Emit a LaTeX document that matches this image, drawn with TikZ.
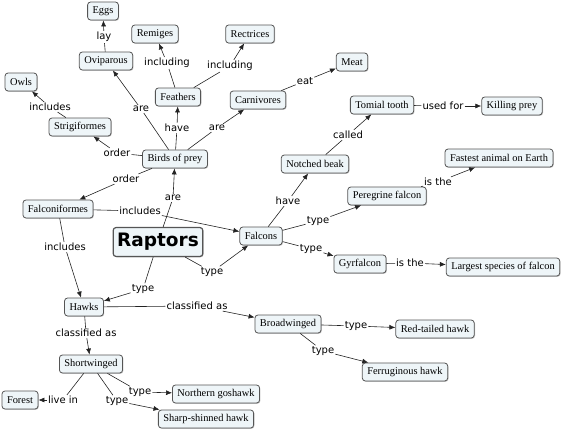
\documentclass[tikz,border=0pt]{standalone}
\usepackage{fontspec}
\setmainfont{Liberation Serif}
\setsansfont{DejaVu Sans}
\usetikzlibrary{arrows.meta,shadows}
\definecolor{cmapFill}{RGB}{238,245,248}
\definecolor{cmapLine}{RGB}{85,85,85}
\definecolor{cmapLink}{RGB}{35,35,35}

\begin{document}
\begin{tikzpicture}[
  x=1pt, y=-1pt,
  concept/.style={rounded corners=3pt, draw=cmapLine, fill=cmapFill, line width=0.8pt, font=\rmfamily\fontsize{10.4}{12}\selectfont, inner xsep=5pt, inner ysep=3pt, minimum height=18pt, drop shadow={shadow xshift=0.8pt, shadow yshift=-0.8pt, fill=black!45}},
  rootconcept/.style={concept, line width=1.2pt, font=\sffamily\bfseries\fontsize{18.5}{20}\selectfont, inner xsep=4pt, minimum height=29pt},
  link/.style={font=\sffamily\fontsize{10}{12}\selectfont, inner sep=1pt},
  linkline/.style={draw=cmapLink, line width=0.6pt},
  arrow/.style={-{Latex[length=6pt,width=5pt]}, draw=cmapLink, line width=0.6pt}
]
\useasboundingbox (0,0) rectangle (562,431);

% concepts
\node[rootconcept] (raptors) at (158,242) {Raptors};
\node[concept] (birds) at (175,159) {Birds of prey};
\node[concept] (eggs) at (103,11) {Eggs};
\node[concept] (remiges) at (155,34) {Remiges};
\node[concept] (rectrices) at (250,34) {Rectrices};
\node[concept] (oviparous) at (106,61) {Oviparous};
\node[concept] (owls) at (21,82) {Owls};
\node[concept] (feathers) at (178,97) {Feathers};
\node[concept] (carnivores) at (258,100) {Carnivores};
\node[concept] (strigiformes) at (80,127) {Strigiformes};
\node[concept] (meat) at (352,62) {Meat};
\node[concept] (tomial) at (382,105) {Tomial tooth};
\node[concept] (killing) at (512,106) {Killing prey};
\node[concept] (notched) at (315,164) {Notched beak};
\node[concept] (fastest) at (499,158) {Fastest animal on Earth};
\node[concept] (peregrine) at (387,196) {Peregrine falcon};
\node[concept] (falcons) at (261,236) {Falcons};
\node[concept] (gyrfalcon) at (360,264) {Gyrfalcon};
\node[concept] (largest) at (503,267) {Largest species of falcon};
\node[concept] (falconiformes) at (58,209) {Falconiformes};
\node[concept] (hawks) at (84,307) {Hawks};
\node[concept] (shortwinged) at (91,364) {Shortwinged};
\node[concept] (forest) at (20,400) {Forest};
\node[concept] (goshawk) at (216,394) {Northern goshawk};
\node[concept] (sharpshin) at (206,419) {Sharp-shinned hawk};
\node[concept] (broadwinged) at (288,324) {Broadwinged};
\node[concept] (redtail) at (435,329) {Red-tailed hawk};
\node[concept] (ferrug) at (405,372) {Ferruginous hawk};

% linking words
\node[link] (lay) at (104,37) {lay};
\node[link] (inclRem) at (167,63) {including};
\node[link] (inclRec) at (230,66) {including};
\node[link] (areOvi) at (141,109) {are};
\node[link] (haveFea) at (177,128) {have};
\node[link] (areCarn) at (217,128) {are};
\node[link] (inclOwls) at (50,107) {includes};
\node[link] (orderStrig) at (117,153) {order};
\node[link] (orderFalc) at (126,179) {order};
\node[link] (areBirds) at (173,198) {are};
\node[link] (inclFalcons) at (140,211) {includes};
\node[link] (inclHawks) at (65,247) {includes};
\node[link] (typeFalcons) at (212,272) {type};
\node[link] (typeHawks) at (143,289) {type};
\node[link] (eat) at (305,81) {eat};
\node[link] (usedFor) at (443,106) {used for};
\node[link] (called) at (348,135) {called};
\node[link] (isFastest) at (438,182) {is the};
\node[link] (haveBeak) at (288,201) {have};
\node[link] (typePere) at (318,221) {type};
\node[link] (typeGyr) at (311,249) {type};
\node[link] (isLargest) at (410,263) {is the};
\node[link] (classBroad) at (197,306) {classified as};
\node[link] (classShort) at (86,333) {classified as};
\node[link] (liveIn) at (63,400) {live in};
\node[link] (typeGos) at (140,392) {type};
\node[link] (typeSharp) at (117,401) {type};
\node[link] (typeRed) at (356,326) {type};
\node[link] (typeFerr) at (323,351) {type};

% propositions
\draw[linkline] (raptors) -- (areBirds); \draw[arrow] (areBirds) -- (birds);
\draw[linkline] (raptors) -- (typeFalcons); \draw[arrow] (typeFalcons) -- (falcons);
\draw[linkline] (raptors) -- (typeHawks); \draw[arrow] (typeHawks) -- (hawks);
\draw[linkline] (birds) -- (areOvi); \draw[arrow] (areOvi) -- (oviparous);
\draw[linkline] (birds) -- (haveFea); \draw[arrow] (haveFea) -- (feathers);
\draw[linkline] (birds) -- (areCarn); \draw[arrow] (areCarn) -- (carnivores);
\draw[linkline] (birds) -- (orderStrig); \draw[arrow] (orderStrig) -- (strigiformes);
\draw[linkline] (birds) -- (orderFalc); \draw[arrow] (orderFalc) -- (falconiformes);
\draw[linkline] (oviparous) -- (lay); \draw[arrow] (lay) -- (eggs);
\draw[linkline] (feathers) -- (inclRem); \draw[arrow] (inclRem) -- (remiges);
\draw[linkline] (feathers) -- (inclRec); \draw[arrow] (inclRec) -- (rectrices);
\draw[linkline] (carnivores) -- (eat); \draw[arrow] (eat) -- (meat);
\draw[linkline] (strigiformes) -- (inclOwls); \draw[arrow] (inclOwls) -- (owls);
\draw[linkline] (falconiformes) -- (inclFalcons); \draw[arrow] (inclFalcons) -- (falcons);
\draw[linkline] (falconiformes) -- (inclHawks); \draw[arrow] (inclHawks) -- (hawks);
\draw[linkline] (falcons) -- (haveBeak); \draw[arrow] (haveBeak) -- (notched);
\draw[linkline] (falcons) -- (typePere); \draw[arrow] (typePere) -- (peregrine);
\draw[linkline] (falcons) -- (typeGyr); \draw[arrow] (typeGyr) -- (gyrfalcon);
\draw[linkline] (notched) -- (called); \draw[arrow] (called) -- (tomial);
\draw[linkline] (tomial) -- (usedFor); \draw[arrow] (usedFor) -- (killing);
\draw[linkline] (peregrine) -- (isFastest); \draw[arrow] (isFastest) -- (fastest);
\draw[linkline] (gyrfalcon) -- (isLargest); \draw[arrow] (isLargest) -- (largest);
\draw[linkline] (hawks) -- (classBroad); \draw[arrow] (classBroad) -- (broadwinged);
\draw[linkline] (hawks) -- (classShort); \draw[arrow] (classShort) -- (shortwinged);
\draw[linkline] (shortwinged) -- (liveIn); \draw[arrow] (liveIn) -- (forest);
\draw[linkline] (shortwinged) -- (typeGos); \draw[arrow] (typeGos) -- (goshawk);
\draw[linkline] (shortwinged) -- (typeSharp); \draw[arrow] (typeSharp) -- (sharpshin);
\draw[linkline] (broadwinged) -- (typeRed); \draw[arrow] (typeRed) -- (redtail);
\draw[linkline] (broadwinged) -- (typeFerr); \draw[arrow] (typeFerr) -- (ferrug);
\end{tikzpicture}
\end{document}
